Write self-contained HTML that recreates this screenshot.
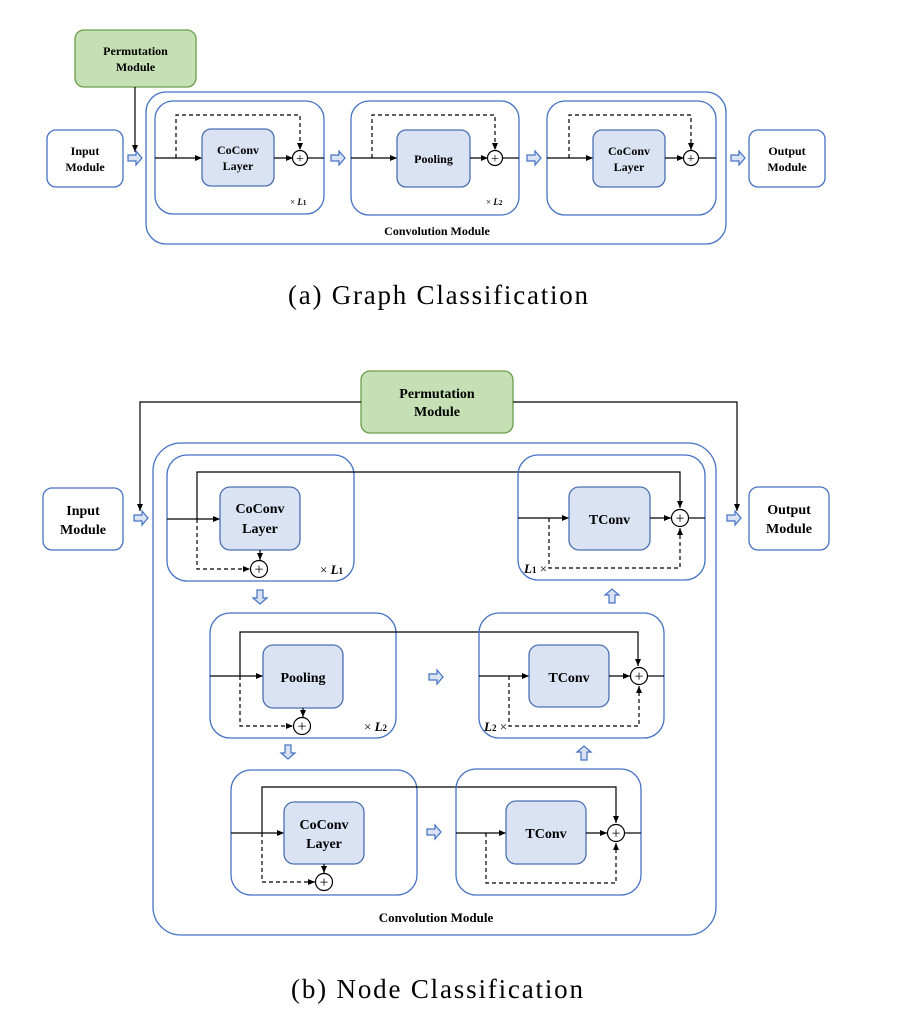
<!DOCTYPE html>
<html><head><meta charset="utf-8"><style>
html,body{margin:0;padding:0;background:#fff}
svg{display:block}
text{font-family:"Liberation Serif",serif;font-weight:bold;fill:#000}
.b{fill:none;stroke:#4472c4;stroke-width:1.3}
.c{fill:#dae3f3;stroke:#4a6fb0;stroke-width:1.3}
.l{stroke:#000;stroke-width:1.2;fill:none}
.d{stroke:#000;stroke-width:1.2;fill:none;stroke-dasharray:4,3}
.ha{fill:#dae3f3;stroke:#4472c4;stroke-width:1.2}
.ci{fill:#fff;stroke:#000;stroke-width:1.2}
</style></head><body>
<svg width="908" height="1022" viewBox="0 0 908 1022" xmlns="http://www.w3.org/2000/svg">
<defs>
<marker id="a" markerWidth="8" markerHeight="8" refX="7" refY="4" orient="auto" markerUnits="userSpaceOnUse"><path d="M0,1 L7,4 L0,7 z" fill="#000"/></marker>
<g id="hr"><path d="M0,-3 H8 V-7 L14,0 L8,7 V3 H0 z"/></g>
</defs>

<!-- ===== (a) ===== -->
<rect x="75" y="30" width="121" height="57" rx="9" fill="#c5e0b4" stroke="#6a9e4a" stroke-width="1.3"/>
<text x="135.5" y="55" font-size="12" text-anchor="middle">Permutation</text>
<text x="135.5" y="71" font-size="12" text-anchor="middle">Module</text>
<rect x="47" y="130" width="76" height="57" rx="9" class="b"/>
<text x="85" y="155" font-size="12" text-anchor="middle">Input</text>
<text x="85" y="171" font-size="12" text-anchor="middle">Module</text>
<rect x="749" y="130" width="76" height="57" rx="9" class="b"/>
<text x="787" y="155" font-size="12" text-anchor="middle">Output</text>
<text x="787" y="171" font-size="12" text-anchor="middle">Module</text>
<line x1="135" y1="87" x2="135" y2="152" class="l" marker-end="url(#a)"/>
<use href="#hr" x="128" y="158" class="ha"/>
<use href="#hr" x="331" y="158" class="ha"/>
<use href="#hr" x="527" y="158" class="ha"/>
<use href="#hr" x="731" y="158" class="ha"/>
<rect x="146" y="92" width="580" height="152" rx="20" class="b"/>
<text x="437" y="235" font-size="12" text-anchor="middle">Convolution Module</text>
<!-- inner 1 -->
<rect x="155" y="101" width="169" height="113" rx="18" class="b"/>
<line x1="155" y1="158" x2="202" y2="158" class="l" marker-end="url(#a)"/>
<rect x="202" y="129" width="72" height="57" rx="9" class="c"/>
<text x="238" y="154" font-size="12" text-anchor="middle">CoConv</text>
<text x="238" y="170" font-size="12" text-anchor="middle">Layer</text>
<line x1="274" y1="158" x2="293" y2="158" class="l" marker-end="url(#a)"/>
<path d="M176,158 V115 H300 V150" class="d" marker-end="url(#a)"/>
<circle cx="300" cy="158" r="7.5" class="ci"/><text x="300" y="163" font-size="14" text-anchor="middle" style="font-weight:normal" fill="#b8860b">+</text>
<line x1="308" y1="158" x2="324" y2="158" class="l"/>
<text x="290" y="205" font-size="9" style="font-weight:normal">× <tspan font-style="italic" font-weight="bold">L</tspan><tspan font-size="7" font-weight="bold">1</tspan></text>
<!-- inner 2 -->
<rect x="351" y="101" width="168" height="114" rx="18" class="b"/>
<line x1="351" y1="158" x2="397" y2="158" class="l" marker-end="url(#a)"/>
<rect x="397" y="130" width="73" height="57" rx="9" class="c"/>
<text x="433.5" y="163" font-size="12" text-anchor="middle">Pooling</text>
<line x1="470" y1="158" x2="488" y2="158" class="l" marker-end="url(#a)"/>
<path d="M372,158 V115 H495 V150" class="d" marker-end="url(#a)"/>
<circle cx="495" cy="158" r="7.5" class="ci"/><text x="495" y="163" font-size="14" text-anchor="middle" style="font-weight:normal" fill="#b8860b">+</text>
<line x1="503" y1="158" x2="519" y2="158" class="l"/>
<text x="486" y="205" font-size="9" style="font-weight:normal">× <tspan font-style="italic" font-weight="bold">L</tspan><tspan font-size="7" font-weight="bold">2</tspan></text>
<!-- inner 3 -->
<rect x="547" y="101" width="169" height="114" rx="18" class="b"/>
<line x1="547" y1="158" x2="593" y2="158" class="l" marker-end="url(#a)"/>
<rect x="593" y="130" width="72" height="57" rx="9" class="c"/>
<text x="629" y="155" font-size="12" text-anchor="middle">CoConv</text>
<text x="629" y="171" font-size="12" text-anchor="middle">Layer</text>
<line x1="665" y1="158" x2="684" y2="158" class="l" marker-end="url(#a)"/>
<path d="M569,158 V115 H691 V150" class="d" marker-end="url(#a)"/>
<circle cx="691" cy="158" r="7.5" class="ci"/><text x="691" y="163" font-size="14" text-anchor="middle" style="font-weight:normal" fill="#b8860b">+</text>
<line x1="699" y1="158" x2="716" y2="158" class="l"/>
<text x="288" y="304" font-size="27" textLength="300" lengthAdjust="spacing" style="font-weight:normal">(a)  Graph Classification</text>

<!-- ===== (b) ===== -->
<rect x="361" y="371" width="152" height="62" rx="9" fill="#c5e0b4" stroke="#6a9e4a" stroke-width="1.3"/>
<text x="437" y="398" font-size="14" text-anchor="middle">Permutation</text>
<text x="437" y="416" font-size="14" text-anchor="middle">Module</text>
<path d="M361,402 H140 V511" class="l" marker-end="url(#a)"/>
<path d="M513,402 H737 V511" class="l" marker-end="url(#a)"/>
<rect x="43" y="488" width="80" height="62" rx="9" class="b"/>
<text x="83" y="515" font-size="14" text-anchor="middle">Input</text>
<text x="83" y="534" font-size="14" text-anchor="middle">Module</text>
<rect x="749" y="487" width="80" height="63" rx="9" class="b"/>
<text x="789" y="514" font-size="14" text-anchor="middle">Output</text>
<text x="789" y="533" font-size="14" text-anchor="middle">Module</text>
<use href="#hr" x="134" y="518" class="ha"/>
<use href="#hr" x="727" y="518" class="ha"/>
<rect x="153" y="443" width="563" height="492" rx="28" class="b"/>
<text x="436" y="922" font-size="13" text-anchor="middle">Convolution Module</text>

<!-- box1 -->
<rect x="167" y="455" width="187" height="126" rx="20" class="b"/>
<line x1="167" y1="519" x2="220" y2="519" class="l" marker-end="url(#a)"/>
<path d="M197,519 V472 H680 V508" class="l" marker-end="url(#a)"/>
<rect x="220" y="487" width="80" height="63" rx="10" class="c"/>
<text x="260" y="513" font-size="14" text-anchor="middle">CoConv</text>
<text x="260" y="533" font-size="14" text-anchor="middle">Layer</text>
<line x1="260" y1="550" x2="260" y2="560" class="l" marker-end="url(#a)"/>
<path d="M197,519 V569 H250" class="d" marker-end="url(#a)"/>
<circle cx="259" cy="569" r="8.5" class="ci"/><text x="259" y="574.5" font-size="16" text-anchor="middle" style="font-weight:normal">+</text>
<text x="320" y="574" font-size="13" style="font-weight:normal">× <tspan font-style="italic" font-weight="bold">L</tspan><tspan font-size="9" font-weight="bold">1</tspan></text>
<use href="#hr" transform="translate(260,590) rotate(90)" class="ha"/>

<!-- box2 -->
<rect x="210" y="613" width="186" height="125" rx="20" class="b"/>
<line x1="210" y1="676" x2="263" y2="676" class="l" marker-end="url(#a)"/>
<path d="M240,676 V632 H638 V666" class="l" marker-end="url(#a)"/>
<rect x="263" y="645" width="80" height="63" rx="10" class="c"/>
<text x="303" y="682" font-size="14" text-anchor="middle">Pooling</text>
<line x1="303" y1="708" x2="303" y2="717" class="l" marker-end="url(#a)"/>
<path d="M240,676 V726 H293" class="d" marker-end="url(#a)"/>
<circle cx="302" cy="726" r="8.5" class="ci"/><text x="302" y="731.5" font-size="16" text-anchor="middle" style="font-weight:normal">+</text>
<text x="364" y="731" font-size="13" style="font-weight:normal">× <tspan font-style="italic" font-weight="bold">L</tspan><tspan font-size="9" font-weight="bold">2</tspan></text>
<use href="#hr" transform="translate(288,745) rotate(90)" class="ha"/>

<!-- box3 -->
<rect x="231" y="770" width="186" height="125" rx="20" class="b"/>
<line x1="231" y1="833" x2="284" y2="833" class="l" marker-end="url(#a)"/>
<path d="M262,833 V787 H616 V823" class="l" marker-end="url(#a)"/>
<rect x="284" y="802" width="80" height="62" rx="10" class="c"/>
<text x="324" y="829" font-size="14" text-anchor="middle">CoConv</text>
<text x="324" y="848" font-size="14" text-anchor="middle">Layer</text>
<line x1="324" y1="864" x2="324" y2="873" class="l" marker-end="url(#a)"/>
<path d="M262,833 V882 H315" class="d" marker-end="url(#a)"/>
<circle cx="324" cy="882" r="8.5" class="ci"/><text x="324" y="887.5" font-size="16" text-anchor="middle" style="font-weight:normal">+</text>
<use href="#hr" x="427" y="832" class="ha"/>
<use href="#hr" x="429" y="677" class="ha"/>

<!-- tconv3 -->
<rect x="456" y="769" width="185" height="126" rx="20" class="b"/>
<line x1="456" y1="833" x2="506" y2="833" class="l" marker-end="url(#a)"/>
<rect x="506" y="801" width="80" height="63" rx="10" class="c"/>
<text x="546" y="838" font-size="14" text-anchor="middle">TConv</text>
<line x1="586" y1="833" x2="607" y2="833" class="l" marker-end="url(#a)"/>
<path d="M486,833 V883 H616 V843" class="d" marker-end="url(#a)"/>
<circle cx="616" cy="833" r="8.5" class="ci"/><text x="616" y="838.5" font-size="16" text-anchor="middle" style="font-weight:normal">+</text>
<line x1="625" y1="833" x2="641" y2="833" class="l"/>

<!-- tconv2 -->
<rect x="479" y="613" width="185" height="125" rx="20" class="b"/>
<line x1="479" y1="676" x2="529" y2="676" class="l" marker-end="url(#a)"/>
<rect x="529" y="645" width="80" height="62" rx="10" class="c"/>
<text x="569" y="682" font-size="14" text-anchor="middle">TConv</text>
<line x1="609" y1="676" x2="630" y2="676" class="l" marker-end="url(#a)"/>
<path d="M509,676 V726 H639 V686" class="d" marker-end="url(#a)"/>
<circle cx="639" cy="676" r="8.5" class="ci"/><text x="639" y="681.5" font-size="16" text-anchor="middle" style="font-weight:normal" fill="#b8860b">+</text>
<line x1="648" y1="676" x2="664" y2="676" class="l"/>
<text x="484" y="731" font-size="13" style="font-weight:normal"><tspan font-style="italic" font-weight="bold">L</tspan><tspan font-size="9" font-weight="bold">2</tspan> ×</text>
<use href="#hr" transform="translate(584,760) rotate(-90)" class="ha"/>

<!-- tconv1 -->
<rect x="518" y="455" width="187" height="125" rx="20" class="b"/>
<line x1="518" y1="518" x2="569" y2="518" class="l" marker-end="url(#a)"/>
<rect x="569" y="487" width="81" height="63" rx="10" class="c"/>
<text x="609.5" y="524" font-size="14" text-anchor="middle">TConv</text>
<line x1="650" y1="518" x2="671" y2="518" class="l" marker-end="url(#a)"/>
<path d="M549,518 V568 H680 V528" class="d" marker-end="url(#a)"/>
<circle cx="680" cy="518" r="8.5" class="ci"/><text x="680" y="523.5" font-size="16" text-anchor="middle" style="font-weight:normal" fill="#b8860b">+</text>
<line x1="689" y1="518" x2="705" y2="518" class="l"/>
<text x="524" y="573" font-size="13" style="font-weight:normal"><tspan font-style="italic" font-weight="bold">L</tspan><tspan font-size="9" font-weight="bold">1</tspan> ×</text>
<use href="#hr" transform="translate(612,603) rotate(-90)" class="ha"/>

<text x="291" y="998" font-size="27" textLength="292" lengthAdjust="spacing" style="font-weight:normal">(b)  Node Classification</text>
</svg>
</body></html>
